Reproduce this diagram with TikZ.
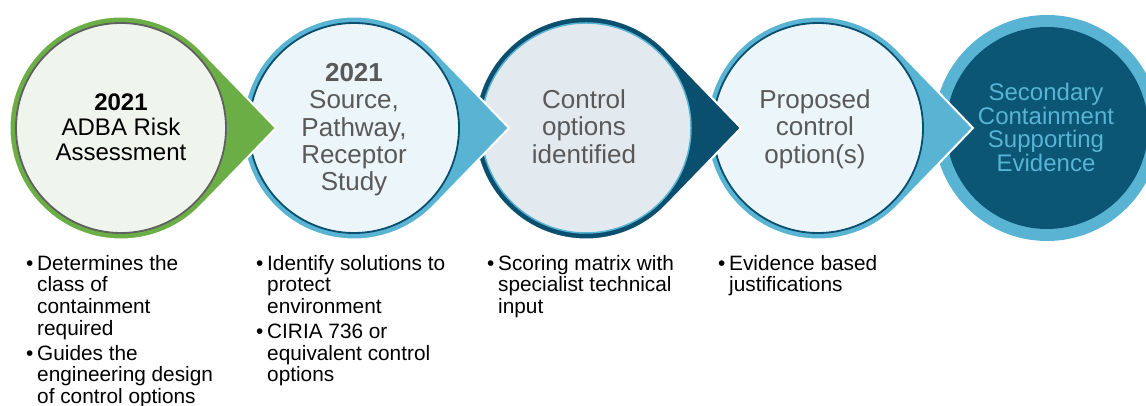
\documentclass[tikz,border=0pt]{standalone}
\usepackage{fontspec}
\setmainfont{Liberation Sans}
\definecolor{leaf}{HTML}{6CAE46}
\definecolor{sky}{HTML}{58B4D2}
\definecolor{navy}{HTML}{0B4F6E}
\definecolor{deep}{HTML}{0B5675}
\definecolor{paleleaf}{HTML}{EFF4EC}
\definecolor{palesky}{HTML}{ECF5F9}
\definecolor{palegrey}{HTML}{E3EAEF}
\definecolor{rimgrey}{HTML}{606060}
\definecolor{textgrey}{HTML}{595959}

% bullet with hanging indent for the note columns
\newcommand\notebullet{\makebox[11pt][l]{•}}
\newcommand\noteindent{\hspace*{11pt}}

% pointed backing shape: a circle of radius 111.5pt drawn out to a tip 155pt to its right
\newcommand\pointer[2]{%
  \pgfmathsetmacro\tipangle{acos(111.5/155)}%
  \filldraw[fill=#2, draw=white, line width=2pt]
    ([shift={(\tipangle:111.5pt)}]#1,278) -- (#1+155,278)
    -- ([shift={(-\tipangle:111.5pt)}]#1,278)
    arc[start angle=-\tipangle, end angle=-360+\tipangle, radius=111.5pt] -- cycle;}

\tikzset{
  disc/.style={circle, inner sep=0pt, minimum size=210pt, line width=1.8pt},
  title/.style 2 args={anchor=north, inner sep=0pt, align=center,
    font=\fontsize{#1}{#2}\selectfont},
  notes/.style={anchor=north west, inner sep=0pt, align=left,
    font=\fontsize{20.8}{21.67}\selectfont},
}

\begin{document}
\begin{tikzpicture}[x=1pt, y=1pt]
\useasboundingbox (0,0) rectangle (1146,406);
\clip (0,0) rectangle (1146,406);

% final stage: plain ringed disc
\fill[sky] (1047,278) circle[radius=113pt];
\node[circle, inner sep=0pt, minimum size=202pt, fill=deep] (c5) at (1047,278) {};

% stages drawn right to left so each tip lies over the next disc
\pointer{818}{sky}
\node[disc, fill=palesky, draw=navy] (c4) at (818,278) {};
\pointer{586}{navy}
\node[disc, fill=palegrey, draw=sky, line width=1.5pt] (c3) at (586,278) {};
\pointer{354}{sky}
\node[disc, fill=palesky, draw=navy] (c2) at (354,278) {};
\pointer{121}{leaf}
\node[disc, fill=paleleaf, draw=rimgrey] (c1) at (121,278) {};

% stage titles
\node[title={24}{25}, text=black] (t1) at (121,316)
  {\rule{0pt}{20pt}\textbf{2021}\\ADBA Risk\\Assessment};
\node[title={26}{27.1}, text=textgrey] (t2) at (354,344.3)
  {\rule{0pt}{20pt}\textbf{2021}\\Source,\\Pathway,\\Receptor\\Study};
\node[title={26}{27.5}, text=textgrey] (t3) at (584,317.7)
  {\rule{0pt}{20pt}Control\\options\\identified};
\node[title={26}{27.5}, text=textgrey] (t4) at (815,317.7)
  {\rule{0pt}{20pt}Proposed\\control\\option(s)};
\node[title={24}{23.9}, text=sky] (t5) at (1046,326)
  {\rule{0pt}{20pt}Secondary\\Containment\\Supporting\\Evidence};

% notes under the stages
\node[notes] (n1) at (26,156)
  {\rule{0pt}{20pt}\notebullet Determines the\\
   \noteindent class of\\
   \noteindent containment\\
   \noteindent required\\[3.3pt]
   \notebullet Guides the\\
   \noteindent engineering design\\
   \noteindent of control options};
\node[notes] (n2) at (256,156)
  {\rule{0pt}{20pt}\notebullet Identify solutions to\\
   \noteindent protect\\
   \noteindent environment\\[3.3pt]
   \notebullet CIRIA 736 or\\
   \noteindent equivalent control\\
   \noteindent options};
\node[notes] (n3) at (487,156)
  {\rule{0pt}{20pt}\notebullet Scoring matrix with\\
   \noteindent specialist technical\\
   \noteindent input};
\node[notes] (n4) at (718,156)
  {\rule{0pt}{20pt}\notebullet Evidence based\\
   \noteindent justifications};
\end{tikzpicture}
\end{document}
